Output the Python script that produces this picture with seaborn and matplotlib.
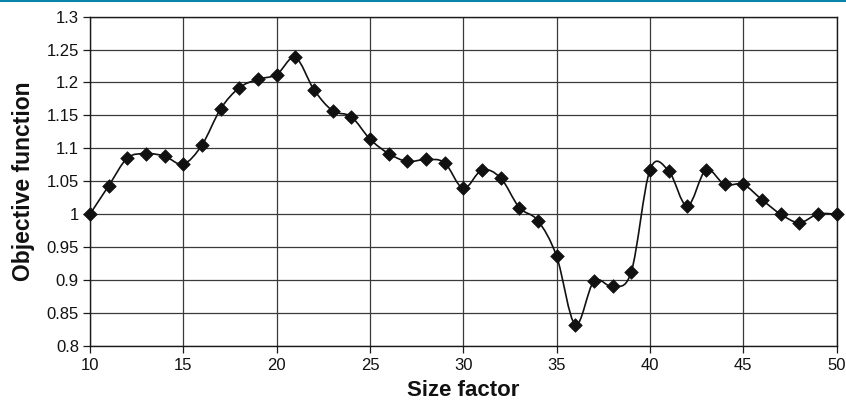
import numpy as np
import pandas as pd
import matplotlib
matplotlib.use("Agg")
import matplotlib.pyplot as plt
from matplotlib.path import Path
from matplotlib.patches import PathPatch
from matplotlib.lines import Line2D
import seaborn as sns

# Objective function evaluated at each size factor
size_factor = list(range(10, 51))
objective = [
    1.000, 1.043, 1.085, 1.092, 1.088, 1.076, 1.105, 1.160, 1.192, 1.205,
    1.212, 1.238, 1.189, 1.157, 1.148, 1.114, 1.092, 1.080, 1.083, 1.078,
    1.039, 1.067, 1.055, 1.010, 0.990, 0.936, 0.832, 0.898, 0.890, 0.912,
    1.067, 1.066, 1.012, 1.067, 1.045, 1.045, 1.022, 1.000, 0.987, 1.000,
    1.000,
]
x_ticks = [10, 15, 20, 25, 30, 35, 40, 45, 50]
y_ticks = [0.8, 0.85, 0.9, 0.95, 1.0, 1.05, 1.1, 1.15, 1.2, 1.25, 1.3]
y_tick_labels = ["0.8", "0.85", "0.9", "0.95", "1", "1.05", "1.1", "1.15", "1.2", "1.25", "1.3"]

df = pd.DataFrame({"Size factor": size_factor, "Objective function": objective})

sns.set_theme(style="white")
plt.rcParams["font.family"] = ["Liberation Sans", "DejaVu Sans"]

fig = plt.figure(figsize=(8.46, 4.04), dpi=100)
ax = fig.add_axes([0.1064, 0.1443, 0.8824, 0.8144])

# Smoothed connecting curve (cubic Bezier segments through every point)
xs = np.asarray(size_factor, dtype=float)
ys = np.asarray(objective, dtype=float)
n = len(xs)
verts = [(xs[0], ys[0])]
codes = [Path.MOVETO]
for i in range(n - 1):
    i0 = max(i - 1, 0)
    i3 = min(i + 2, n - 1)
    c1 = (xs[i] + (xs[i + 1] - xs[i0]) / 6.0, ys[i] + (ys[i + 1] - ys[i0]) / 6.0)
    c2 = (xs[i + 1] - (xs[i3] - xs[i]) / 6.0, ys[i + 1] - (ys[i3] - ys[i]) / 6.0)
    verts += [c1, c2, (xs[i + 1], ys[i + 1])]
    codes += [Path.CURVE4] * 3
ax.add_patch(PathPatch(Path(verts, codes), facecolor="none", edgecolor="#111111",
                       lw=1.2, zorder=3))

sns.scatterplot(data=df, x="Size factor", y="Objective function", marker="D",
                s=48, color="#111111", edgecolor="#111111", linewidth=0.5,
                zorder=4, ax=ax, clip_on=False)

ax.set_xlim(10, 50)
ax.set_ylim(0.8, 1.3)
ax.set_xticks(x_ticks)
ax.set_yticks(y_ticks)
ax.set_yticklabels(y_tick_labels)

ax.grid(True, color="#3a3a3a", lw=0.9)
ax.set_axisbelow(True)
for sp in ax.spines.values():
    sp.set_color("#1a1a1a")
    sp.set_linewidth(1.0)

ax.tick_params(axis="both", which="major", direction="out", length=5, width=0.9,
               color="#1a1a1a", labelsize=12, labelcolor="#111111", pad=3)
ax.tick_params(axis="x", bottom=True, pad=4)
ax.tick_params(axis="y", left=True)

ax.set_xlabel("Size factor", fontsize=16, fontweight="bold", color="#111111", labelpad=5)
ax.set_ylabel("Objective function", fontsize=16.5, fontweight="bold", color="#111111", labelpad=8)

# thin accent rule along the top edge
fig.add_artist(Line2D([0, 1], [0.9985, 0.9985], transform=fig.transFigure,
                      color="#0a84a8", lw=1.5))

fig.savefig("out.png", dpi=100, facecolor="white")
